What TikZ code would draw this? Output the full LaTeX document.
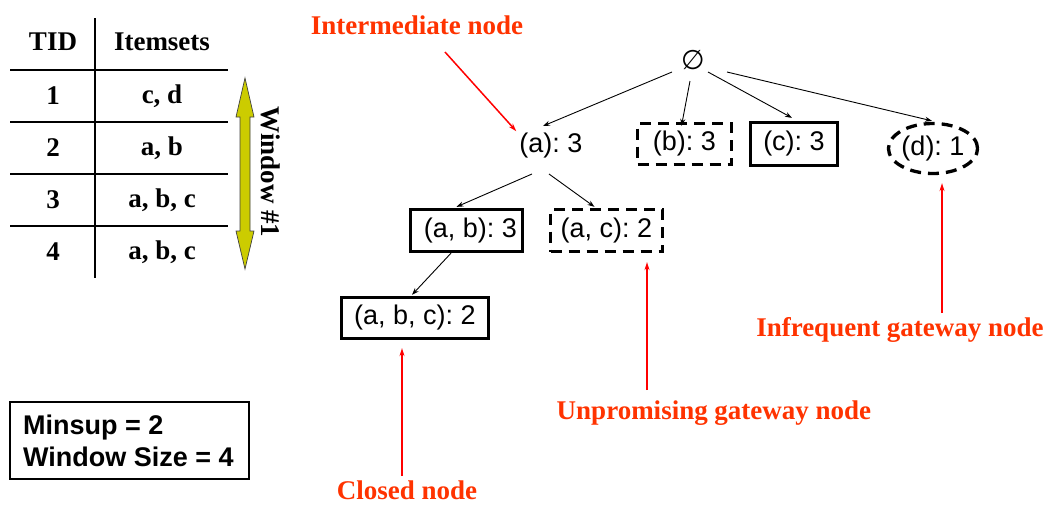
\documentclass[tikz,border=0pt]{standalone}
\usepackage{fontspec}
\setmainfont{Liberation Serif}
\newfontfamily\arialfont{Liberation Sans}
\newfontfamily\symfont{DejaVu Sans}
\usetikzlibrary{arrows.meta,calc,shapes.geometric}

\definecolor{labelred}{RGB}{255,51,0}
\definecolor{arrowred}{RGB}{255,0,0}
\definecolor{winyellow}{RGB}{204,204,0}

\frenchspacing
\begin{document}
\begin{tikzpicture}[x=1pt,y=-1pt,
  tabtext/.style={font=\fontsize{27}{30}\selectfont\bfseries, inner sep=0pt},
  treetext/.style={font=\arialfont\fontsize{27}{30}\selectfont, inner sep=0pt},
  solidbox/.style={treetext, draw, line width=3.3pt},
  dashbox/.style={solidbox, dash pattern=on 11pt off 7pt},
  edge/.style={-{Stealth[length=7pt,width=5pt]}, line width=0.9pt},
  callout/.style={draw=arrowred, line width=1.5pt, -{Stealth[length=8pt,width=5pt]}},
  calltext/.style={text=labelred, font=\fontsize{27}{30}\selectfont\bfseries, inner sep=0pt},
  tableline/.style={line width=1.2pt}]

\useasboundingbox (0,0) rectangle (1053,504);

% transaction table
\draw[tableline] (95,18) -- (95,278);
\foreach \yy in {70,122,174,226}
  \draw[tableline] (10,\yy) -- (228,\yy);
\node[tabtext] (tid) at (53,42) {TID};
\node[tabtext] (its) at (162,42) {Itemsets};
\node[tabtext] (t1) at (53,96) {1};
\node[tabtext] (i1) at (162,96) {c, d};
\node[tabtext] (t2) at (53,148) {2};
\node[tabtext] (i2) at (162,148) {a, b};
\node[tabtext] (t3) at (53,200) {3};
\node[tabtext] (i3) at (162,200) {a, b, c};
\node[tabtext] (t4) at (53,252) {4};
\node[tabtext] (i4) at (162,252) {a, b, c};

% sliding window marker
\draw[fill=winyellow, draw=black!75, line width=0.7pt]
  (245,78) -- (254,117) -- (250,117) -- (250,231) -- (254,231) -- (245,269)
  -- (236,231) -- (240,231) -- (240,117) -- (236,117) -- cycle;
\node[tabtext, rotate=-90] (win) at (271,172) {Window \#1};

% parameters
\node[draw, line width=1.5pt, minimum width=239pt, minimum height=77pt] (par) at (129.5,440.5) {};
\node[font=\arialfont\fontsize{27}{32}\selectfont\bfseries, align=left, anchor=west, inner sep=0pt]
  (partext) at (23,441) {Minsup = 2\\Window Size = 4};

% enumeration tree
\node[font=\symfont\fontsize{27}{30}\selectfont, inner sep=0pt] (root) at (693,60) {∅};
\node[treetext] (a) at (551,146) {(a): 3};
\node[dashbox, minimum width=94pt, minimum height=41pt] (b) at (684.5,144) {(b): 3};
\node[solidbox, minimum width=87pt, minimum height=43pt] (c) at (794,144) {(c): 3};
\node[dashbox, ellipse, minimum width=85pt, minimum height=50pt] (d) at (933,148.5) {(d): 1};
\node[solidbox, minimum width=112pt, minimum height=42pt] (ab) at (466.5,230.5) {\hspace*{8pt}(a, b): 3};
\node[dashbox, minimum width=112pt, minimum height=42pt] (ac) at (606.5,230.5) {(a, c): 2};
\node[solidbox, minimum width=147pt, minimum height=41pt] (abc) at (415,318) {(a, b, c): 2};

\draw[edge] ($(root)+(-21,12)$) -- ($(a)+(-8,-20)$);
\draw[edge] ($(root)+(-3,21)$) -- ($(b.north)+(-3,4)$);
\draw[edge] ($(root)+(15,12)$) -- ($(c.north)+(-2,-3)$);
\draw[edge] ($(root)+(34,12)$) -- ($(d.north)+(-1,-1)$);
\draw[edge] ($(a)+(-19,28)$) -- ($(ab.north)+(-10,-1)$);
\draw[edge] ($(a)+(-2,28)$) -- ($(ac.north)+(-12,-1)$);
\draw[edge] ($(ab.south)+(-15.5,0)$) -- ($(abc.north)+(-3,-1)$);

% annotations
\node[calltext] (lint) at (417,25) {Intermediate node};
\node[calltext] (linf) at (900,330) {Infrequent gateway node};
\node[calltext] (lunp) at (714,413) {Unpromising gateway node};
\node[calltext] (lclo) at (407,490) {Closed node};

\coordinate (sint) at (445,52);
\coordinate (sinf) at (942,313);
\coordinate (sunp) at (647,390);
\coordinate (sclo) at (402,476);

\draw[callout] (sint) -- ($(a.north west)+(-3,-2)$);
\draw[callout] (sinf) -- ($(d.south)+(9,8)$);
\draw[callout] (sunp) -- ($(ac.south)+(40.5,9)$);
\draw[callout] (sclo) -- ($(abc.south)+(-13,8)$);
\end{tikzpicture}
\end{document}
